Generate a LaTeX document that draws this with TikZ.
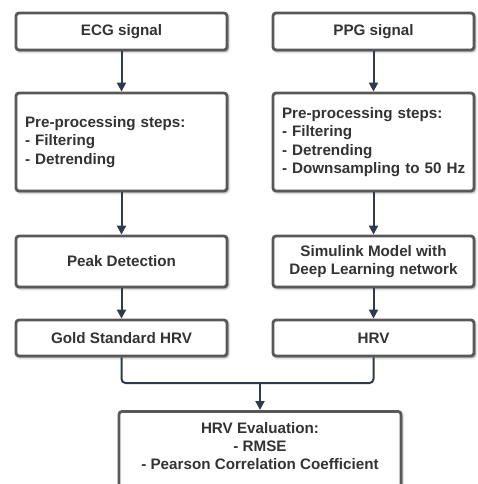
\documentclass[tikz,border=0pt]{standalone}
\usepackage{fontspec}
\setmainfont{Liberation Sans}
\usetikzlibrary{arrows.meta,shadows.blur}
\definecolor{bordergray}{HTML}{585858}
\definecolor{txtgray}{HTML}{333333}
\definecolor{arrnavy}{HTML}{2F3A4A}
\tikzset{
  box/.style={draw=bordergray, line width=2.8pt, rounded corners=3pt, fill=white,
    text=txtgray, font=\fontsize{15.2}{18.5}\selectfont\bfseries, inner sep=0pt,
    blur shadow={shadow xshift=1.2pt, shadow yshift=-1.5pt, shadow blur radius=2.5pt, shadow blur steps=8, shadow opacity=45}},
  leftbox/.style={box, align=left, text width=#1},
  centerbox/.style={box, align=center},
  arr/.style={draw=arrnavy, line width=2pt, -{Triangle[width=9pt,length=9pt]}},
  conn/.style={draw=arrnavy, line width=2pt, rounded corners=4pt},
}
\begin{document}
\begin{tikzpicture}[x=1pt,y=1pt]
\useasboundingbox (0,0) rectangle (478,-484);
\clip (0,0) rectangle (478,-484);
\node[centerbox, minimum width=211pt, minimum height=37pt] (ecg) at (121.5,-31.5) {ECG signal};
\node[centerbox, minimum width=201pt, minimum height=37pt] (ppg) at (373.5,-31.5) {PPG signal};
\node[leftbox=193pt, minimum width=211pt, minimum height=98pt] (pre1) at (121.5,-142) {Pre-processing steps:\\- Filtering\\- Detrending};
\node[leftbox=183pt, minimum width=201pt, minimum height=98pt] (pre2) at (373.5,-142) {Pre-processing steps:\\- Filtering\\- Detrending\\\mbox{- Downsampling to 50 Hz}};
\node[centerbox, minimum width=211pt, minimum height=51pt] (peak) at (121.5,-261.5) {Peak Detection};
\node[centerbox, minimum width=201pt, minimum height=51pt] (sim) at (373.5,-261.5) {Simulink Model with\\Deep Learning network};
\node[centerbox, minimum width=211pt, minimum height=36pt] (gold) at (121.5,-338) {Gold Standard HRV};
\node[centerbox, minimum width=201pt, minimum height=36pt] (hrv) at (373.5,-338) {HRV};
\node[box, align=center, minimum width=282pt, minimum height=90pt, anchor=north] (eval) at (260,-410) {};
\node[text=txtgray, font=\fontsize{15.2}{18.2}\selectfont\bfseries, align=center, anchor=center] (evaltxt) at (260,-446) {HRV Evaluation:\\- RMSE\\- Pearson Correlation Coefficient};
\coordinate (j) at (260,-383);
\draw[arr] (ecg) -- (pre1);
\draw[arr] (ppg) -- (pre2);
\draw[arr] (pre1) -- (peak);
\draw[arr] (pre2) -- (sim);
\draw[arr] (peak) -- (gold);
\draw[arr] (sim) -- (hrv);
\draw[conn] (gold.south) |- (j);
\draw[conn] (hrv.south) |- (j);
\draw[arr] (j) -- (eval.north);
\end{tikzpicture}
\end{document}
